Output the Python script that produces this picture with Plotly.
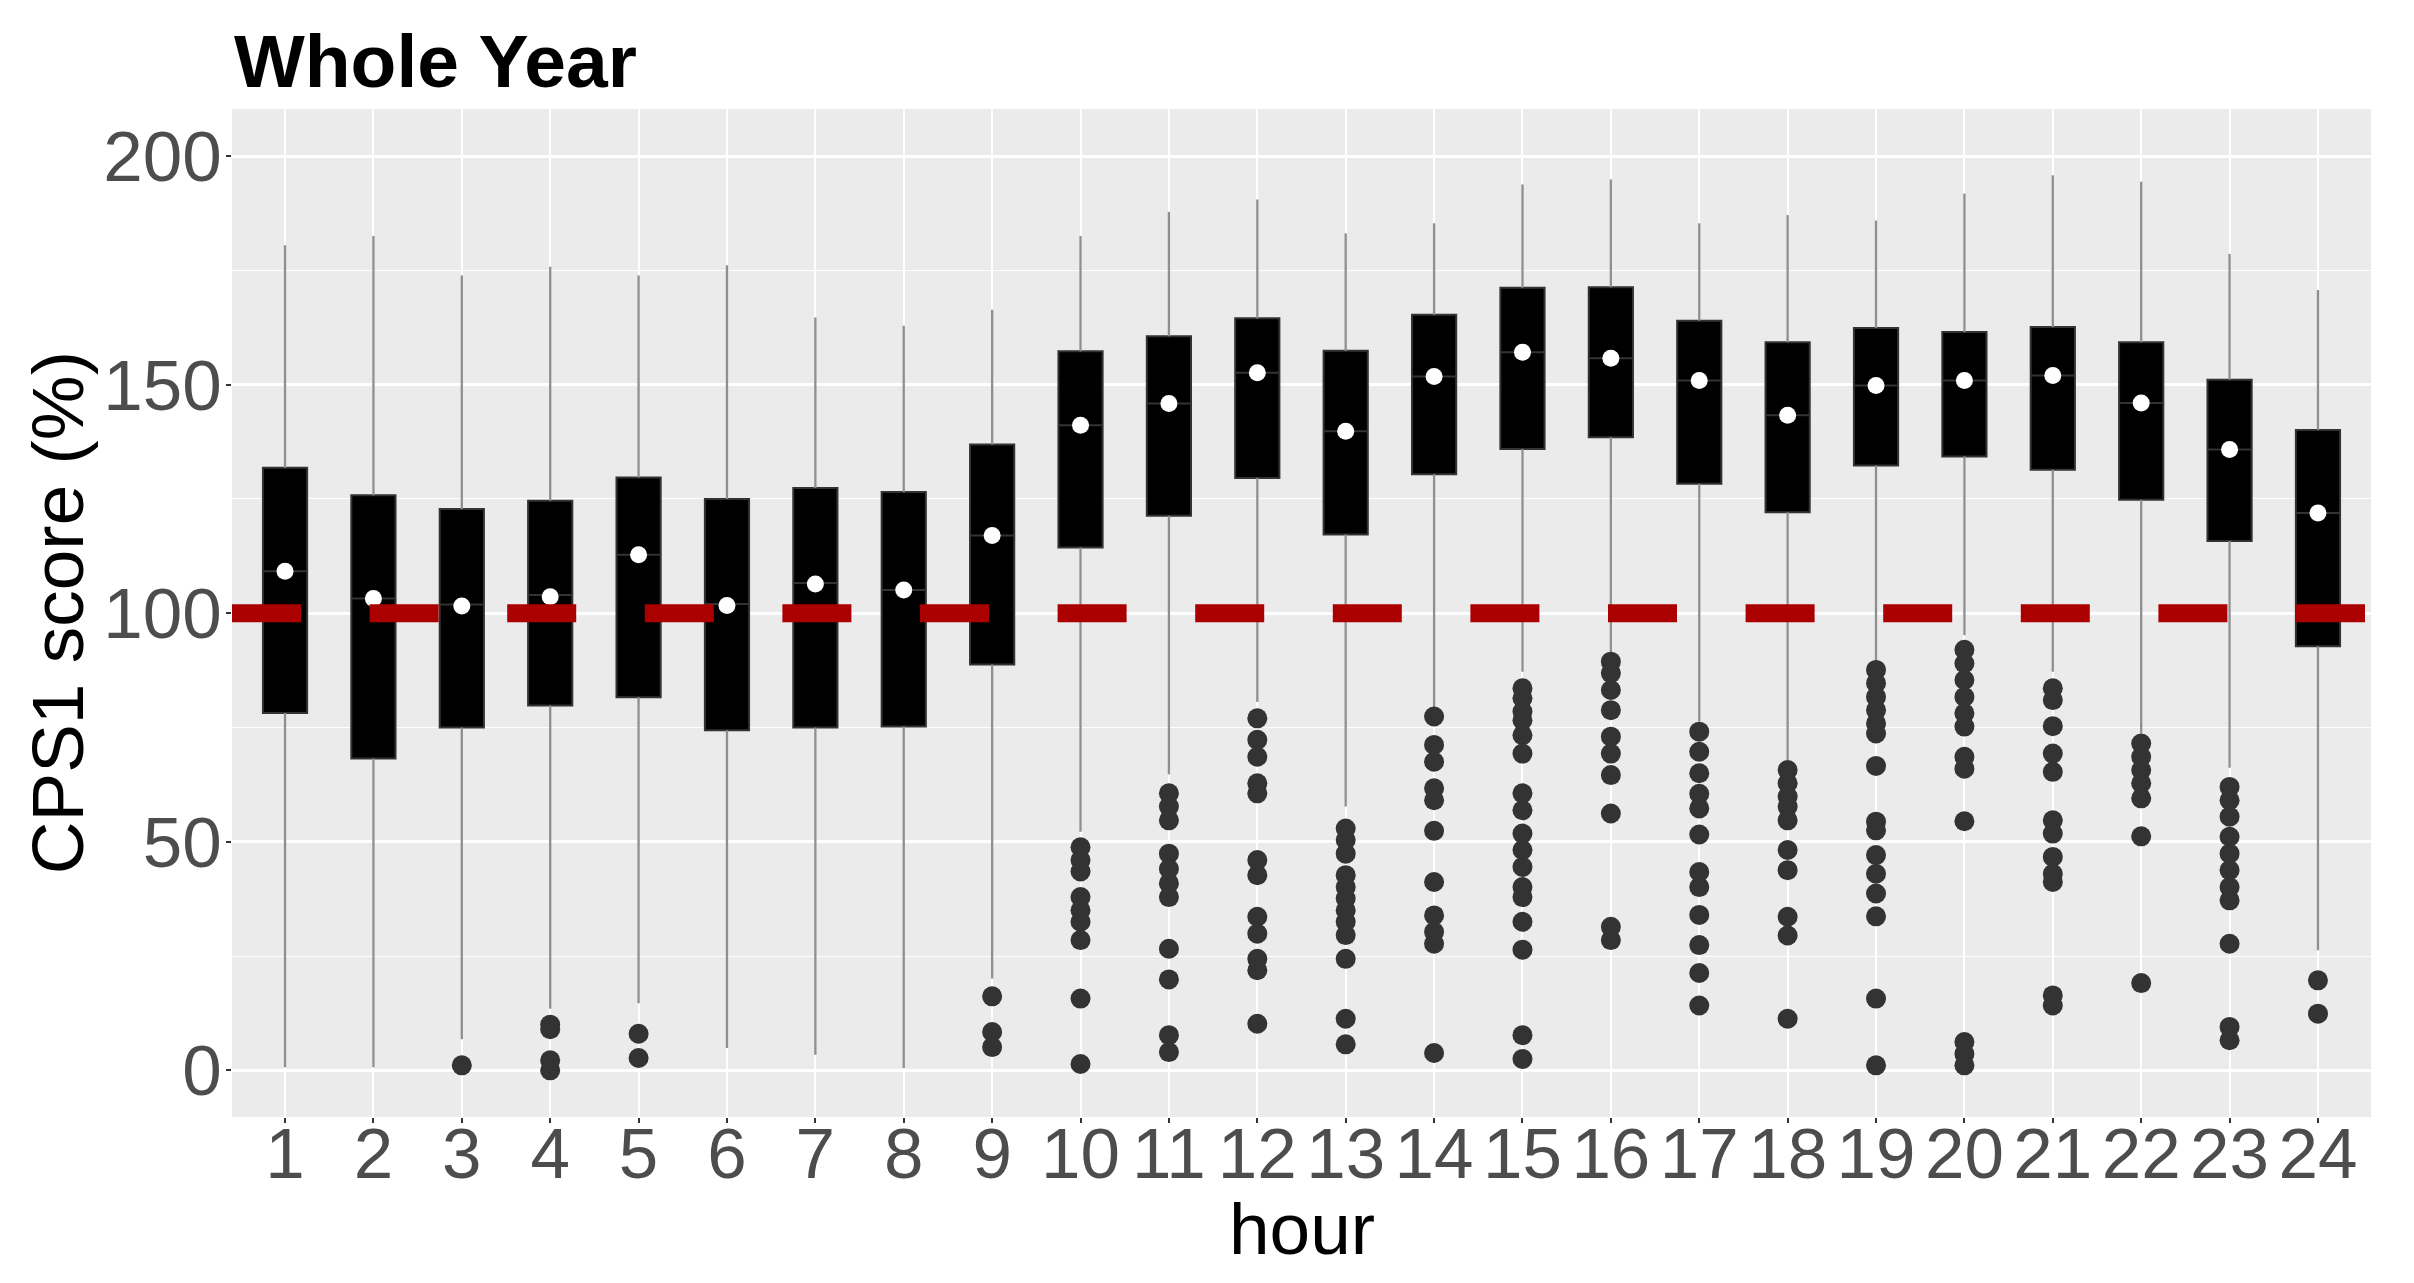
'''
    Box plot of the CPS1 score per hour over the whole year.
'''

import plotly.graph_objects as go


hours = list(range(1, 25))

upper_whisker = [180.5, 182.5, 173.9, 175.8, 173.9, 176.1, 164.7, 162.9, 166.4, 182.5, 187.8, 190.5,
                 183.1, 185.3, 193.8, 194.9, 185.3, 187.1, 185.9, 191.8, 195.8, 194.4, 178.6, 170.7]
q3 = [131.8, 125.8, 122.8, 124.6, 129.7, 125.0, 127.4, 126.5, 136.9, 157.3, 160.6, 164.5,
      157.4, 165.3, 171.2, 171.3, 164.0, 159.3, 162.4, 161.5, 162.6, 159.3, 151.1, 140.1]
median = [109.2, 103.2, 101.9, 104.0, 112.8, 102.0, 106.6, 105.1, 117.0, 141.1, 145.9, 152.6,
          139.8, 151.8, 157.1, 155.8, 150.9, 143.3, 149.8, 150.9, 152.0, 146.0, 135.8, 121.9]
mean = [109.2, 103.2, 101.6, 103.6, 112.8, 101.7, 106.4, 105.1, 117.0, 141.1, 145.9, 152.6,
        139.8, 151.8, 157.1, 155.8, 150.9, 143.3, 149.8, 150.9, 152.0, 146.0, 135.8, 121.9]
q1 = [78.2, 68.2, 75.0, 79.8, 81.6, 74.4, 75.0, 75.2, 88.8, 114.4, 121.3, 129.6,
      117.2, 130.4, 135.9, 138.5, 128.3, 122.1, 132.3, 134.3, 131.4, 124.8, 115.8, 92.8]
lower_whisker = [0.7, 0.7, 6.8, 13.5, 14.7, 4.9, 3.4, 0.5, 20.1, 52.2, 64.8, 80.6,
                 57.7, 79.4, 87.2, 91.2, 76.3, 67.9, 89.4, 95.2, 87.2, 73.7, 66.2, 26.3]

outliers = [
    [],
    [],
    [1.1],
    [10.0, 9.0, 2.2, 0.0],
    [8.0, 2.7],
    [],
    [],
    [],
    [16.2, 8.4, 5.1],
    [48.8, 46.0, 43.5, 37.9, 35.0, 32.5, 28.5, 15.7, 1.4],
    [60.6, 57.7, 54.7, 47.4, 44.1, 40.9, 37.9, 26.6, 19.9, 7.7, 4.0],
    [77.0, 72.3, 68.6, 62.8, 60.6, 46.0, 42.7, 33.6, 29.9, 24.4, 21.9, 10.2],
    [52.9, 50.4, 47.4, 42.7, 40.1, 37.6, 35.0, 32.5, 29.6, 24.4, 11.3, 5.7],
    [77.4, 71.2, 67.5, 61.7, 59.1, 52.4, 41.2, 33.9, 30.3, 27.7, 3.8],
    [83.6, 81.4, 78.5, 76.6, 73.3, 69.3, 60.6, 56.9, 51.8, 48.2, 44.5, 40.1, 37.9, 32.5, 26.4, 7.7, 2.5],
    [89.4, 86.9, 83.2, 78.8, 73.0, 69.3, 64.6, 56.2, 31.4, 28.5],
    [74.1, 69.7, 65.0, 60.5, 57.3, 51.6, 43.4, 40.1, 34.0, 27.4, 21.3, 14.2],
    [65.7, 62.8, 59.9, 57.7, 54.7, 48.2, 43.8, 33.6, 29.5, 11.3],
    [87.6, 84.7, 81.7, 78.8, 75.9, 73.7, 66.6, 54.4, 52.5, 47.1, 43.0, 38.7, 33.7, 15.7, 1.1],
    [92.0, 89.0, 85.4, 81.7, 78.1, 75.2, 68.6, 66.0, 54.5, 6.2, 3.6, 1.1],
    [83.6, 81.0, 75.3, 69.3, 65.3, 54.7, 51.8, 46.7, 43.0, 41.2, 16.4, 14.2],
    [71.5, 68.6, 65.7, 62.8, 59.5, 51.2, 19.1],
    [62.0, 59.1, 55.5, 51.1, 47.4, 43.8, 40.1, 37.2, 27.7, 9.5, 6.6],
    [19.7, 12.4],
]

reference_level = 100

FONT = 'Liberation Sans, Arial, sans-serif'


def get_plot():
    '''
        Builds the box plot figure.
    '''
    fig = go.Figure()

    # whiskers, drawn separately so they can be lighter than the boxes
    wx, wy = [], []
    for h, lo, b1, b3, hi in zip(hours, lower_whisker, q1, q3, upper_whisker):
        wx += [h, h, None, h, h, None]
        wy += [b3, hi, None, b1, lo, None]
    fig.add_trace(go.Scatter(
        x=wx, y=wy, mode='lines',
        line=dict(color='#8f8f8f', width=2.3),
        hoverinfo='skip'))

    fig.add_trace(go.Box(
        x=hours, q1=q1, median=median, q3=q3,
        lowerfence=q1, upperfence=q3,
        width=0.5,
        fillcolor='black',
        line=dict(color='#333333', width=2),
        boxpoints=False))

    ox, oy = [], []
    for h, pts in zip(hours, outliers):
        ox += [h] * len(pts)
        oy += pts
    fig.add_trace(go.Scatter(
        x=ox, y=oy, mode='markers',
        marker=dict(color='#333333', size=20, line=dict(width=0))))

    fig.add_trace(go.Scatter(
        x=hours, y=mean, mode='markers',
        marker=dict(color='white', size=17, line=dict(width=0))))

    fig.add_hline(y=reference_level,
                  line=dict(color='#AA0000', width=18, dash='69px,68.6px'))

    # the page body keeps an 8px margin, so the figure is 16px smaller
    fig.update_layout(
        width=2398, height=1267,
        margin=dict(l=224, r=35, t=101, b=158),
        plot_bgcolor='#EBEBEB', paper_bgcolor='white',
        showlegend=False,
        font=dict(family=FONT, color='black'),
    )

    fig.update_xaxes(
        range=[0.4, 24.6],
        tickvals=hours, ticktext=[str(h) for h in hours],
        ticks='outside', ticklen=5, tickwidth=2, tickcolor='#333333',
        ticklabelstandoff=-30,
        tickfont=dict(size=71, color='#4D4D4D', family=FONT),
        showgrid=True, gridcolor='white', gridwidth=2.2,
        zeroline=False, showline=False, automargin=False)

    fig.update_yaxes(
        range=[-10.2, 210.3],
        tickvals=[0, 50, 100, 150, 200],
        ticks='outside', ticklen=5, tickwidth=2, tickcolor='#333333',
        ticklabelstandoff=-10,
        tickfont=dict(size=71, color='#4D4D4D', family=FONT),
        showgrid=True, gridcolor='white', gridwidth=2.6,
        minor=dict(tickvals=[25, 75, 125, 175], showgrid=True,
                   gridcolor='white', gridwidth=1.3),
        zeroline=False, showline=False, automargin=False)

    fig.add_annotation(
        text='<b>Whole Year</b>', xref='paper', yref='paper',
        x=0, y=1.0476, xanchor='left', yanchor='middle', showarrow=False,
        font=dict(size=75, color='black', family=FONT))
    fig.add_annotation(
        text='hour', xref='paper', yref='paper',
        x=0.5, y=-0.111, xanchor='center', yanchor='middle', showarrow=False,
        font=dict(size=73, color='black', family=FONT))
    fig.add_annotation(
        text='CPS1 score (%)', xref='paper', yref='paper', textangle=-90,
        x=-0.0817, y=0.5, xanchor='center', yanchor='middle', showarrow=False,
        font=dict(size=73, color='black', family=FONT))
    return fig


fig = get_plot()
fig.write_html('out.html')
